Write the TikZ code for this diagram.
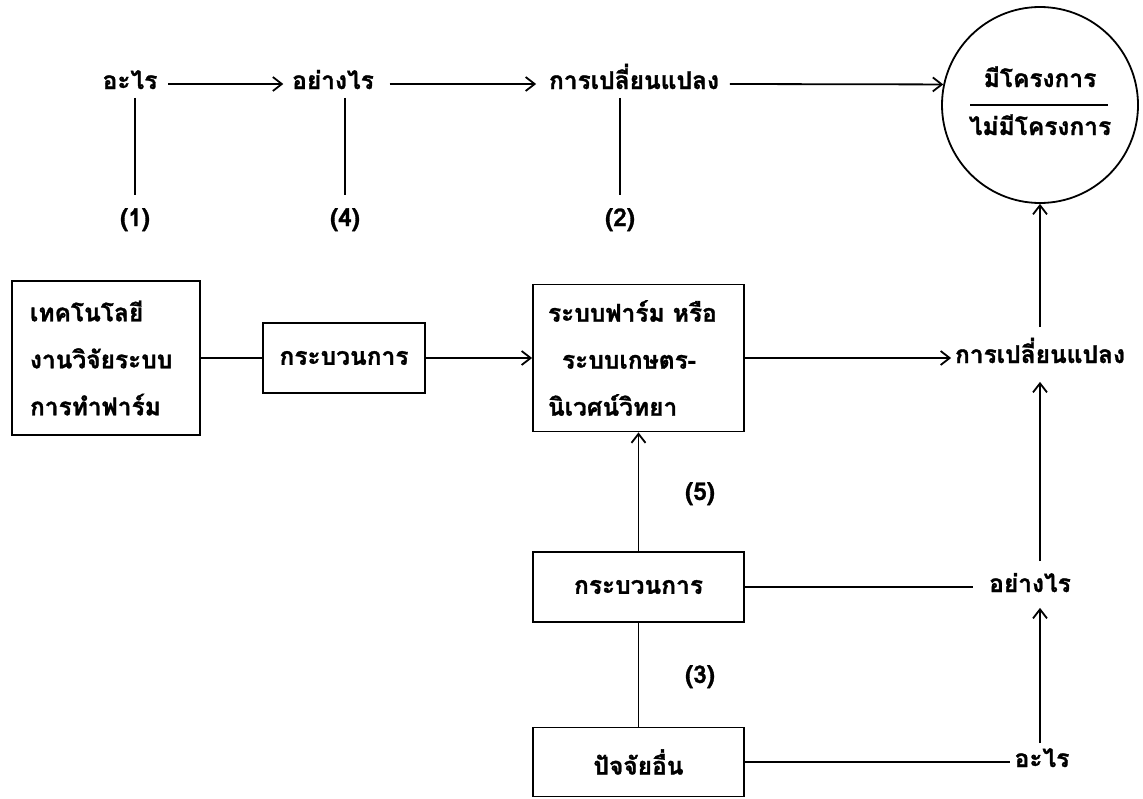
\documentclass[tikz,border=0pt]{standalone}
\usepackage{fontspec}
\newfontfamily\thaifont[Script=Thai,BoldFeatures={FakeBold=1.2}]{Loma}
\usetikzlibrary{arrows.meta,calc}
\begin{document}
\begin{tikzpicture}[x=1pt,y=-1pt,line width=1.8pt,
  every node/.style={font=\thaifont\bfseries\fontsize{24.5}{47}\selectfont},
  txt/.style={inner sep=0pt, text height=15pt, text depth=5pt},
  box/.style={draw, inner sep=0pt},
  arr/.style={-{Straight Barb[length=9pt,width=14pt]}}
]
\fill[white] (0,0) rectangle (1143,798);
\useasboundingbox (0,0) rectangle (1143,798);

% top row
\node[txt] (t1) at (130,84) {อะไร};
\node[txt] (t2) at (333,84) {อย่างไร};
\node[txt] (t3) at (634,84) {การเปลี่ยนแปลง};
\node[draw, circle, minimum size=196pt, inner sep=0pt] (c) at (1040,105) {};
\node[txt] (c1) at (1040,82) {มีโครงการ};
\node[txt] (c2) at (1040,130) {ไม่มีโครงการ};
\draw (970,105) -- (1108,105);

\draw[arr] ($(t1.east)+(10,0)$) -- ($(t2.west)+(-8,0)$);
\draw[arr] ($(t2.east)+(15,0)$) -- ($(t3.west)+(-12,0)$);
\draw[arr] ($(t3.east)+(10,0)$) -- (c.168);

\node[txt] (l1) at (135,221) {(1)};
\node[txt] (l4) at (345,221) {(4)};
\node[txt] (l2) at (620,221) {(2)};
\draw ($(t1.south -| l1)+(0,3)$) -- ($(l1.north)+(0,-15)$);
\draw ($(t2.south -| l4)+(0,3)$) -- ($(l4.north)+(0,-15)$);
\draw ($(t3.south -| l2)+(0,3)$) -- ($(l2.north)+(0,-15)$);

% middle row
\node[box, align=left, text width=152pt, inner xsep=18pt, minimum height=154pt] (b1) at (106,358)
  {เทคโนโลยี\\งานวิจัยระบบ\\การทำฟาร์ม};
\node[box, minimum width=162pt, minimum height=70pt] (k1) at (344,358) {กระบวนการ};
\node[box, align=left, text width=181pt, inner xsep=15pt, minimum height=147pt] (b2) at (638.5,358)
  {ระบบฟาร์ม หรือ\\\hspace*{14pt}ระบบเกษตร-\\นิเวศน์วิทยา};
\node[txt] (r1) at (1040,358) {การเปลี่ยนแปลง};

\draw (b1.east) -- (k1.west);
\draw[arr] (k1.east) -- (b2.west);
\draw[arr] (b2.east) -- ($(r1.west)+(-3,0)$);
\draw[arr] ($(r1.north)+(0,-20)$) -- (c.south);

% lower part
\node[box, minimum width=211pt, minimum height=70pt] (k2) at (638.5,587) {กระบวนการ};
\node[box, minimum width=211pt, minimum height=69pt] (k3) at (638.5,762) {ปัจจัยอื่น};
\node[txt] (r2) at (1030,587) {อย่างไร};
\node[txt] (r3) at (1042,762) {อะไร};
\node[txt] (l5) at (700,495) {(5)};
\node[txt] (l3) at (700,678) {(3)};

\draw[arr] (k2.north) -- (b2.south);
\draw (k2.south) -- (k3.north);
\draw (k2.east) -- ($(r2.west)+(-15,0)$);
\draw (k3.east) -- ($(r3.west)+(-4,0)$);
\draw[arr] ($(r2.north -| r1)+(0,-15)$) -- ($(r1.south)+(0,13)$);
\draw[arr] ($(r3.north -| r1)+(0,-8)$) -- ($(r2.south -| r1)+(0,10)$);
\end{tikzpicture}
\end{document}
